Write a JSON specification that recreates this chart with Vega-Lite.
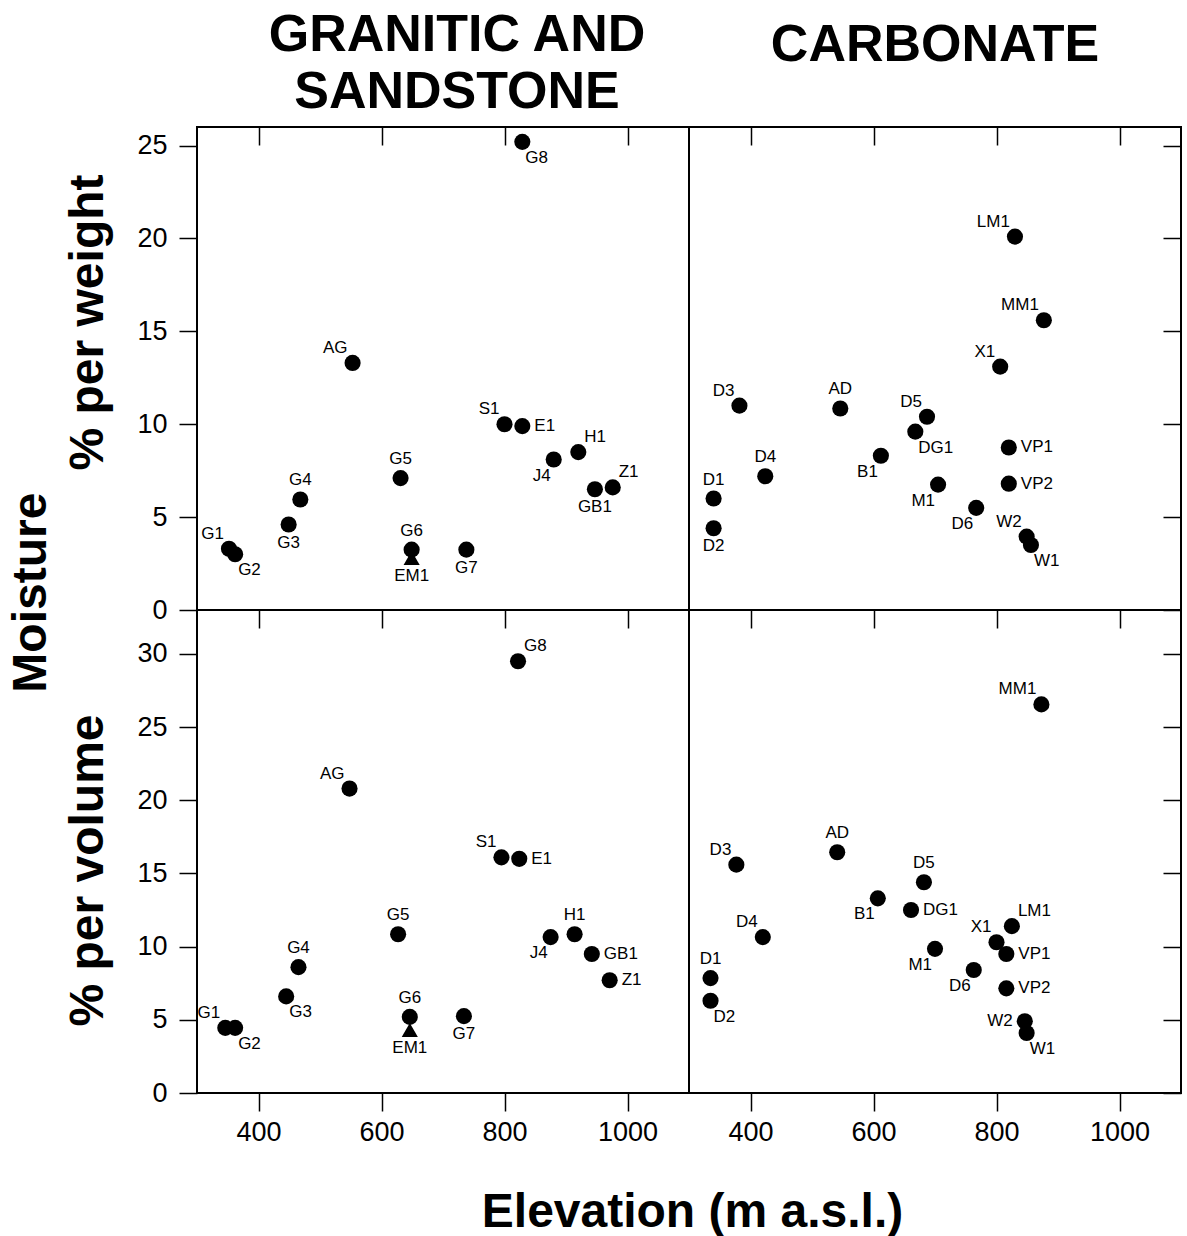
{
  "$schema": "https://vega.github.io/schema/vega-lite/v6.json",
  "padding": {"left": 7, "top": 8, "right": 5, "bottom": 5},
  "background": "white",
  "title": {"text": "Moisture", "orient": "left", "fontSize": 48, "fontWeight": "bold", "font": "Liberation Sans", "anchor": "middle", "offset": 8, "dx": 30, "color": "black"},
  "datasets": {
    "sites": [
      {"rock": "G", "m": "w", "site": "G8", "elev": 829, "moist": 25.2, "marker": "circle", "lp": "lr"},
      {"rock": "G", "m": "w", "site": "AG", "elev": 553, "moist": 13.3, "marker": "circle", "lp": "ul"},
      {"rock": "G", "m": "w", "site": "S1", "elev": 800, "moist": 10.0, "marker": "circle", "lp": "ul"},
      {"rock": "G", "m": "w", "site": "E1", "elev": 829, "moist": 9.9, "marker": "circle", "lp": "r"},
      {"rock": "G", "m": "w", "site": "H1", "elev": 920, "moist": 8.5, "marker": "circle", "lp": "ur"},
      {"rock": "G", "m": "w", "site": "J4", "elev": 880, "moist": 8.1, "marker": "circle", "lp": "ll"},
      {"rock": "G", "m": "w", "site": "GB1", "elev": 947, "moist": 6.5, "marker": "circle", "lp": "b"},
      {"rock": "G", "m": "w", "site": "Z1", "elev": 976, "moist": 6.6, "marker": "circle", "lp": "ur"},
      {"rock": "G", "m": "w", "site": "G5", "elev": 631, "moist": 7.1, "marker": "circle", "lp": "a"},
      {"rock": "G", "m": "w", "site": "G4", "elev": 468, "moist": 5.95, "marker": "circle", "lp": "a"},
      {"rock": "G", "m": "w", "site": "G3", "elev": 449, "moist": 4.6, "marker": "circle", "lp": "b"},
      {"rock": "G", "m": "w", "site": "G1", "elev": 352, "moist": 3.3, "marker": "circle", "lp": "ul"},
      {"rock": "G", "m": "w", "site": "G2", "elev": 362, "moist": 3.0, "marker": "circle", "lp": "lr"},
      {"rock": "G", "m": "w", "site": "G6", "elev": 649, "moist": 3.25, "marker": "circle", "lp": "a"},
      {"rock": "G", "m": "w", "site": "EM1", "elev": 649, "moist": 2.8, "marker": "triangle", "lp": "b"},
      {"rock": "G", "m": "w", "site": "G7", "elev": 738, "moist": 3.25, "marker": "circle", "lp": "b"},

      {"rock": "C", "m": "w", "site": "LM1", "elev": 830, "moist": 20.1, "marker": "circle", "lp": "ul"},
      {"rock": "C", "m": "w", "site": "MM1", "elev": 877, "moist": 15.6, "marker": "circle", "lp": "ul"},
      {"rock": "C", "m": "w", "site": "X1", "elev": 806, "moist": 13.1, "marker": "circle", "lp": "ul"},
      {"rock": "C", "m": "w", "site": "D3", "elev": 382, "moist": 11.0, "marker": "circle", "lp": "ul"},
      {"rock": "C", "m": "w", "site": "AD", "elev": 546, "moist": 10.85, "marker": "circle", "lp": "a"},
      {"rock": "C", "m": "w", "site": "D5", "elev": 687, "moist": 10.4, "marker": "circle", "lp": "ul"},
      {"rock": "C", "m": "w", "site": "DG1", "elev": 668, "moist": 9.6, "marker": "circle", "lp": "lr"},
      {"rock": "C", "m": "w", "site": "B1", "elev": 612, "moist": 8.3, "marker": "circle", "lp": "ll"},
      {"rock": "C", "m": "w", "site": "VP1", "elev": 820, "moist": 8.75, "marker": "circle", "lp": "r"},
      {"rock": "C", "m": "w", "site": "D4", "elev": 424, "moist": 7.2, "marker": "circle", "lp": "a"},
      {"rock": "C", "m": "w", "site": "M1", "elev": 705, "moist": 6.75, "marker": "circle", "lp": "ll"},
      {"rock": "C", "m": "w", "site": "VP2", "elev": 820, "moist": 6.8, "marker": "circle", "lp": "r"},
      {"rock": "C", "m": "w", "site": "D1", "elev": 340, "moist": 6.0, "marker": "circle", "lp": "a"},
      {"rock": "C", "m": "w", "site": "D6", "elev": 767, "moist": 5.5, "marker": "circle", "lp": "ll"},
      {"rock": "C", "m": "w", "site": "D2", "elev": 340, "moist": 4.4, "marker": "circle", "lp": "b"},
      {"rock": "C", "m": "w", "site": "W2", "elev": 849, "moist": 3.95, "marker": "circle", "lp": "ul"},
      {"rock": "C", "m": "w", "site": "W1", "elev": 856, "moist": 3.5, "marker": "circle", "lp": "lr"},

      {"rock": "G", "m": "v", "site": "G8", "elev": 822, "moist": 29.5, "marker": "circle", "lp": "ur"},
      {"rock": "G", "m": "v", "site": "AG", "elev": 548, "moist": 20.8, "marker": "circle", "lp": "ul"},
      {"rock": "G", "m": "v", "site": "S1", "elev": 795, "moist": 16.1, "marker": "circle", "lp": "ul"},
      {"rock": "G", "m": "v", "site": "E1", "elev": 824, "moist": 16.0, "marker": "circle", "lp": "r"},
      {"rock": "G", "m": "v", "site": "G5", "elev": 627, "moist": 10.85, "marker": "circle", "lp": "a"},
      {"rock": "G", "m": "v", "site": "H1", "elev": 914, "moist": 10.85, "marker": "circle", "lp": "a"},
      {"rock": "G", "m": "v", "site": "J4", "elev": 875, "moist": 10.65, "marker": "circle", "lp": "ll"},
      {"rock": "G", "m": "v", "site": "GB1", "elev": 942, "moist": 9.5, "marker": "circle", "lp": "r"},
      {"rock": "G", "m": "v", "site": "Z1", "elev": 971, "moist": 7.7, "marker": "circle", "lp": "r"},
      {"rock": "G", "m": "v", "site": "G4", "elev": 465, "moist": 8.6, "marker": "circle", "lp": "a"},
      {"rock": "G", "m": "v", "site": "G3", "elev": 445, "moist": 6.6, "marker": "circle", "lp": "lr"},
      {"rock": "G", "m": "v", "site": "G1", "elev": 346, "moist": 4.45, "marker": "circle", "lp": "ul"},
      {"rock": "G", "m": "v", "site": "G2", "elev": 362, "moist": 4.45, "marker": "circle", "lp": "lr"},
      {"rock": "G", "m": "v", "site": "G6", "elev": 646, "moist": 5.2, "marker": "circle", "lp": "a"},
      {"rock": "G", "m": "v", "site": "EM1", "elev": 646, "moist": 4.3, "marker": "triangle", "lp": "b"},
      {"rock": "G", "m": "v", "site": "G7", "elev": 734, "moist": 5.25, "marker": "circle", "lp": "b"},

      {"rock": "C", "m": "v", "site": "MM1", "elev": 873, "moist": 26.55, "marker": "circle", "lp": "ul"},
      {"rock": "C", "m": "v", "site": "D3", "elev": 377, "moist": 15.6, "marker": "circle", "lp": "ul"},
      {"rock": "C", "m": "v", "site": "AD", "elev": 541, "moist": 16.45, "marker": "circle", "lp": "a"},
      {"rock": "C", "m": "v", "site": "D5", "elev": 682, "moist": 14.4, "marker": "circle", "lp": "a"},
      {"rock": "C", "m": "v", "site": "B1", "elev": 607, "moist": 13.3, "marker": "circle", "lp": "ll"},
      {"rock": "C", "m": "v", "site": "DG1", "elev": 661, "moist": 12.5, "marker": "circle", "lp": "r"},
      {"rock": "C", "m": "v", "site": "LM1", "elev": 825, "moist": 11.4, "marker": "circle", "lp": "ur"},
      {"rock": "C", "m": "v", "site": "X1", "elev": 800, "moist": 10.3, "marker": "circle", "lp": "ul"},
      {"rock": "C", "m": "v", "site": "VP1", "elev": 816, "moist": 9.5, "marker": "circle", "lp": "r"},
      {"rock": "C", "m": "v", "site": "D4", "elev": 420, "moist": 10.65, "marker": "circle", "lp": "ul"},
      {"rock": "C", "m": "v", "site": "M1", "elev": 700, "moist": 9.85, "marker": "circle", "lp": "ll"},
      {"rock": "C", "m": "v", "site": "D6", "elev": 763, "moist": 8.4, "marker": "circle", "lp": "ll"},
      {"rock": "C", "m": "v", "site": "VP2", "elev": 816, "moist": 7.15, "marker": "circle", "lp": "r"},
      {"rock": "C", "m": "v", "site": "D1", "elev": 335, "moist": 7.85, "marker": "circle", "lp": "a"},
      {"rock": "C", "m": "v", "site": "D2", "elev": 335, "moist": 6.3, "marker": "circle", "lp": "lr"},
      {"rock": "C", "m": "v", "site": "W2", "elev": 846, "moist": 4.9, "marker": "circle", "lp": "l"},
      {"rock": "C", "m": "v", "site": "W1", "elev": 849, "moist": 4.1, "marker": "circle", "lp": "lr"}
    ]
  },
  "columns": 2,
  "spacing": 0,
  "bounds": "flush",
  "concat": [
    {
      "width": 492, "height": 483,
      "title": {"text": ["GRANITIC AND", "SANDSTONE"], "fontSize": 52, "fontWeight": "bold", "lineHeight": 57, "anchor": "middle", "offset": 7, "dx": 14, "color": "black"},
      "data": {"name": "sites"},
      "transform": [{"filter": "datum.rock === 'G' && datum.m === 'w'"}],
      "layer": [
        {"mark": {"type": "point", "filled": true, "color": "black", "opacity": 1, "size": 260},
         "encoding": {
           "x": {"field": "elev", "type": "quantitative", "scale": {"domain": [300, 1100], "nice": false, "zero": false}, "axis": {"orient": "top", "values": [400, 600, 800, 1000], "tickSize": -18, "labels": false, "title": null, "minExtent": 0, "maxExtent": 0}},
           "y": {"field": "moist", "type": "quantitative", "scale": {"domain": [0, 26], "nice": false}, "axis": {"orient": "left", "values": [0, 5, 10, 15, 20, 25], "tickSize": 18, "labelFontSize": 27, "labelPadding": 12, "title": "% per weight", "titleFontSize": 48, "titleFontWeight": "bold", "titlePadding": 24, "titleY": 195, "titleColor": "black"}},
           "shape": {"field": "marker", "type": "nominal", "scale": {"domain": ["circle", "triangle"], "range": ["circle", "triangle-up"]}, "legend": null}}},
        {"transform": [{"filter": "datum.lp === 'ul'"}], "mark": {"type": "text", "align": "right", "baseline": "bottom", "dx": -5, "dy": -6}, "encoding": {"x": {"field": "elev", "type": "quantitative", "axis": null}, "y": {"field": "moist", "type": "quantitative", "axis": null}, "text": {"field": "site"}}},
        {"transform": [{"filter": "datum.lp === 'ur'"}], "mark": {"type": "text", "align": "left", "baseline": "bottom", "dx": 6, "dy": -6}, "encoding": {"x": {"field": "elev", "type": "quantitative", "axis": null}, "y": {"field": "moist", "type": "quantitative", "axis": null}, "text": {"field": "site"}}},
        {"transform": [{"filter": "datum.lp === 'll'"}], "mark": {"type": "text", "align": "right", "baseline": "top", "dx": -3, "dy": 8}, "encoding": {"x": {"field": "elev", "type": "quantitative", "axis": null}, "y": {"field": "moist", "type": "quantitative", "axis": null}, "text": {"field": "site"}}},
        {"transform": [{"filter": "datum.lp === 'lr'"}], "mark": {"type": "text", "align": "left", "baseline": "top", "dx": 3, "dy": 8}, "encoding": {"x": {"field": "elev", "type": "quantitative", "axis": null}, "y": {"field": "moist", "type": "quantitative", "axis": null}, "text": {"field": "site"}}},
        {"transform": [{"filter": "datum.lp === 'a'"}], "mark": {"type": "text", "align": "center", "baseline": "bottom", "dy": -10}, "encoding": {"x": {"field": "elev", "type": "quantitative", "axis": null}, "y": {"field": "moist", "type": "quantitative", "axis": null}, "text": {"field": "site"}}},
        {"transform": [{"filter": "datum.lp === 'b'"}], "mark": {"type": "text", "align": "center", "baseline": "top", "dy": 10}, "encoding": {"x": {"field": "elev", "type": "quantitative", "axis": null}, "y": {"field": "moist", "type": "quantitative", "axis": null}, "text": {"field": "site"}}},
        {"transform": [{"filter": "datum.lp === 'r'"}], "mark": {"type": "text", "align": "left", "baseline": "middle", "dx": 12}, "encoding": {"x": {"field": "elev", "type": "quantitative", "axis": null}, "y": {"field": "moist", "type": "quantitative", "axis": null}, "text": {"field": "site"}}},
        {"transform": [{"filter": "datum.lp === 'l'"}], "mark": {"type": "text", "align": "right", "baseline": "middle", "dx": -12}, "encoding": {"x": {"field": "elev", "type": "quantitative", "axis": null}, "y": {"field": "moist", "type": "quantitative", "axis": null}, "text": {"field": "site"}}}
      ],
      "resolve": {"axis": {"x": "independent", "y": "independent"}}
    },
    {
      "width": 492, "height": 483,
      "title": {"text": "CARBONATE", "fontSize": 52, "fontWeight": "bold", "anchor": "middle", "offset": 54, "color": "black"},
      "data": {"name": "sites"},
      "transform": [{"filter": "datum.rock === 'C' && datum.m === 'w'"}],
      "layer": [
        {"mark": {"type": "point", "filled": true, "color": "black", "opacity": 1, "size": 260},
         "encoding": {
           "x": {"field": "elev", "type": "quantitative", "scale": {"domain": [300, 1100], "nice": false, "zero": false}, "axis": {"orient": "top", "values": [400, 600, 800, 1000], "tickSize": -18, "labels": false, "title": null, "minExtent": 0, "maxExtent": 0}},
           "y": {"field": "moist", "type": "quantitative", "scale": {"domain": [0, 26], "nice": false}, "axis": {"orient": "right", "values": [0, 5, 10, 15, 20, 25], "tickSize": -18, "labels": false, "title": null, "minExtent": 0, "maxExtent": 0}},
           "shape": {"field": "marker", "type": "nominal", "scale": {"domain": ["circle", "triangle"], "range": ["circle", "triangle-up"]}, "legend": null}}},
        {"transform": [{"filter": "datum.lp === 'ul'"}], "mark": {"type": "text", "align": "right", "baseline": "bottom", "dx": -5, "dy": -6}, "encoding": {"x": {"field": "elev", "type": "quantitative", "axis": null}, "y": {"field": "moist", "type": "quantitative", "axis": null}, "text": {"field": "site"}}},
        {"transform": [{"filter": "datum.lp === 'ur'"}], "mark": {"type": "text", "align": "left", "baseline": "bottom", "dx": 6, "dy": -6}, "encoding": {"x": {"field": "elev", "type": "quantitative", "axis": null}, "y": {"field": "moist", "type": "quantitative", "axis": null}, "text": {"field": "site"}}},
        {"transform": [{"filter": "datum.lp === 'll'"}], "mark": {"type": "text", "align": "right", "baseline": "top", "dx": -3, "dy": 8}, "encoding": {"x": {"field": "elev", "type": "quantitative", "axis": null}, "y": {"field": "moist", "type": "quantitative", "axis": null}, "text": {"field": "site"}}},
        {"transform": [{"filter": "datum.lp === 'lr'"}], "mark": {"type": "text", "align": "left", "baseline": "top", "dx": 3, "dy": 8}, "encoding": {"x": {"field": "elev", "type": "quantitative", "axis": null}, "y": {"field": "moist", "type": "quantitative", "axis": null}, "text": {"field": "site"}}},
        {"transform": [{"filter": "datum.lp === 'a'"}], "mark": {"type": "text", "align": "center", "baseline": "bottom", "dy": -10}, "encoding": {"x": {"field": "elev", "type": "quantitative", "axis": null}, "y": {"field": "moist", "type": "quantitative", "axis": null}, "text": {"field": "site"}}},
        {"transform": [{"filter": "datum.lp === 'b'"}], "mark": {"type": "text", "align": "center", "baseline": "top", "dy": 10}, "encoding": {"x": {"field": "elev", "type": "quantitative", "axis": null}, "y": {"field": "moist", "type": "quantitative", "axis": null}, "text": {"field": "site"}}},
        {"transform": [{"filter": "datum.lp === 'r'"}], "mark": {"type": "text", "align": "left", "baseline": "middle", "dx": 12}, "encoding": {"x": {"field": "elev", "type": "quantitative", "axis": null}, "y": {"field": "moist", "type": "quantitative", "axis": null}, "text": {"field": "site"}}},
        {"transform": [{"filter": "datum.lp === 'l'"}], "mark": {"type": "text", "align": "right", "baseline": "middle", "dx": -12}, "encoding": {"x": {"field": "elev", "type": "quantitative", "axis": null}, "y": {"field": "moist", "type": "quantitative", "axis": null}, "text": {"field": "site"}}}
      ],
      "resolve": {"axis": {"x": "independent", "y": "independent"}}
    },
    {
      "width": 492, "height": 483,
      "data": {"name": "sites"},
      "transform": [{"filter": "datum.rock === 'G' && datum.m === 'v'"}],
      "layer": [
        {"mark": {"type": "point", "filled": true, "color": "black", "opacity": 1, "size": 260},
         "encoding": {
           "x": {"field": "elev", "type": "quantitative", "scale": {"domain": [300, 1100], "nice": false, "zero": false}, "axis": {"orient": "top", "values": [400, 600, 800, 1000], "tickSize": -18, "labels": false, "title": null, "minExtent": 0, "maxExtent": 0}},
           "y": {"field": "moist", "type": "quantitative", "scale": {"domain": [0, 33], "nice": false}, "axis": {"orient": "left", "values": [0, 5, 10, 15, 20, 25, 30], "tickSize": 18, "labelFontSize": 27, "labelPadding": 12, "title": "% per volume", "titleFontSize": 48, "titleFontWeight": "bold", "titlePadding": 24, "titleY": 260, "titleColor": "black"}},
           "shape": {"field": "marker", "type": "nominal", "scale": {"domain": ["circle", "triangle"], "range": ["circle", "triangle-up"]}, "legend": null}}},
        {"mark": {"type": "point", "opacity": 0},
         "encoding": {
           "x": {"field": "elev", "type": "quantitative", "axis": {"orient": "bottom", "values": [400, 600, 800, 1000], "format": "d", "tickSize": 18, "labelFontSize": 27, "labelPadding": 8, "title": "Elevation (m a.s.l.)", "titleFontSize": 48, "titleFontWeight": "bold", "titleColor": "black", "titleX": 495, "titleY": 133, "titleAlign": "center", "titleBaseline": "alphabetic", "titleAnchor": null}},
           "y": {"field": "moist", "type": "quantitative", "axis": null}}},
        {"transform": [{"filter": "datum.lp === 'ul'"}], "mark": {"type": "text", "align": "right", "baseline": "bottom", "dx": -5, "dy": -6}, "encoding": {"x": {"field": "elev", "type": "quantitative", "axis": null}, "y": {"field": "moist", "type": "quantitative", "axis": null}, "text": {"field": "site"}}},
        {"transform": [{"filter": "datum.lp === 'ur'"}], "mark": {"type": "text", "align": "left", "baseline": "bottom", "dx": 6, "dy": -6}, "encoding": {"x": {"field": "elev", "type": "quantitative", "axis": null}, "y": {"field": "moist", "type": "quantitative", "axis": null}, "text": {"field": "site"}}},
        {"transform": [{"filter": "datum.lp === 'll'"}], "mark": {"type": "text", "align": "right", "baseline": "top", "dx": -3, "dy": 8}, "encoding": {"x": {"field": "elev", "type": "quantitative", "axis": null}, "y": {"field": "moist", "type": "quantitative", "axis": null}, "text": {"field": "site"}}},
        {"transform": [{"filter": "datum.lp === 'lr'"}], "mark": {"type": "text", "align": "left", "baseline": "top", "dx": 3, "dy": 8}, "encoding": {"x": {"field": "elev", "type": "quantitative", "axis": null}, "y": {"field": "moist", "type": "quantitative", "axis": null}, "text": {"field": "site"}}},
        {"transform": [{"filter": "datum.lp === 'a'"}], "mark": {"type": "text", "align": "center", "baseline": "bottom", "dy": -10}, "encoding": {"x": {"field": "elev", "type": "quantitative", "axis": null}, "y": {"field": "moist", "type": "quantitative", "axis": null}, "text": {"field": "site"}}},
        {"transform": [{"filter": "datum.lp === 'b'"}], "mark": {"type": "text", "align": "center", "baseline": "top", "dy": 10}, "encoding": {"x": {"field": "elev", "type": "quantitative", "axis": null}, "y": {"field": "moist", "type": "quantitative", "axis": null}, "text": {"field": "site"}}},
        {"transform": [{"filter": "datum.lp === 'r'"}], "mark": {"type": "text", "align": "left", "baseline": "middle", "dx": 12}, "encoding": {"x": {"field": "elev", "type": "quantitative", "axis": null}, "y": {"field": "moist", "type": "quantitative", "axis": null}, "text": {"field": "site"}}},
        {"transform": [{"filter": "datum.lp === 'l'"}], "mark": {"type": "text", "align": "right", "baseline": "middle", "dx": -12}, "encoding": {"x": {"field": "elev", "type": "quantitative", "axis": null}, "y": {"field": "moist", "type": "quantitative", "axis": null}, "text": {"field": "site"}}}
      ],
      "resolve": {"axis": {"x": "independent", "y": "independent"}}
    },
    {
      "width": 492, "height": 483,
      "data": {"name": "sites"},
      "transform": [{"filter": "datum.rock === 'C' && datum.m === 'v'"}],
      "layer": [
        {"mark": {"type": "point", "filled": true, "color": "black", "opacity": 1, "size": 260},
         "encoding": {
           "x": {"field": "elev", "type": "quantitative", "scale": {"domain": [300, 1100], "nice": false, "zero": false}, "axis": {"orient": "top", "values": [400, 600, 800, 1000], "tickSize": -18, "labels": false, "title": null, "minExtent": 0, "maxExtent": 0}},
           "y": {"field": "moist", "type": "quantitative", "scale": {"domain": [0, 33], "nice": false}, "axis": {"orient": "right", "values": [0, 5, 10, 15, 20, 25, 30], "tickSize": -18, "labels": false, "title": null, "minExtent": 0, "maxExtent": 0}},
           "shape": {"field": "marker", "type": "nominal", "scale": {"domain": ["circle", "triangle"], "range": ["circle", "triangle-up"]}, "legend": null}}},
        {"mark": {"type": "point", "opacity": 0},
         "encoding": {
           "x": {"field": "elev", "type": "quantitative", "axis": {"orient": "bottom", "values": [400, 600, 800, 1000], "format": "d", "tickSize": 18, "labelFontSize": 27, "labelPadding": 8, "title": null}},
           "y": {"field": "moist", "type": "quantitative", "axis": null}}},
        {"transform": [{"filter": "datum.lp === 'ul'"}], "mark": {"type": "text", "align": "right", "baseline": "bottom", "dx": -5, "dy": -6}, "encoding": {"x": {"field": "elev", "type": "quantitative", "axis": null}, "y": {"field": "moist", "type": "quantitative", "axis": null}, "text": {"field": "site"}}},
        {"transform": [{"filter": "datum.lp === 'ur'"}], "mark": {"type": "text", "align": "left", "baseline": "bottom", "dx": 6, "dy": -6}, "encoding": {"x": {"field": "elev", "type": "quantitative", "axis": null}, "y": {"field": "moist", "type": "quantitative", "axis": null}, "text": {"field": "site"}}},
        {"transform": [{"filter": "datum.lp === 'll'"}], "mark": {"type": "text", "align": "right", "baseline": "top", "dx": -3, "dy": 8}, "encoding": {"x": {"field": "elev", "type": "quantitative", "axis": null}, "y": {"field": "moist", "type": "quantitative", "axis": null}, "text": {"field": "site"}}},
        {"transform": [{"filter": "datum.lp === 'lr'"}], "mark": {"type": "text", "align": "left", "baseline": "top", "dx": 3, "dy": 8}, "encoding": {"x": {"field": "elev", "type": "quantitative", "axis": null}, "y": {"field": "moist", "type": "quantitative", "axis": null}, "text": {"field": "site"}}},
        {"transform": [{"filter": "datum.lp === 'a'"}], "mark": {"type": "text", "align": "center", "baseline": "bottom", "dy": -10}, "encoding": {"x": {"field": "elev", "type": "quantitative", "axis": null}, "y": {"field": "moist", "type": "quantitative", "axis": null}, "text": {"field": "site"}}},
        {"transform": [{"filter": "datum.lp === 'b'"}], "mark": {"type": "text", "align": "center", "baseline": "top", "dy": 10}, "encoding": {"x": {"field": "elev", "type": "quantitative", "axis": null}, "y": {"field": "moist", "type": "quantitative", "axis": null}, "text": {"field": "site"}}},
        {"transform": [{"filter": "datum.lp === 'r'"}], "mark": {"type": "text", "align": "left", "baseline": "middle", "dx": 12}, "encoding": {"x": {"field": "elev", "type": "quantitative", "axis": null}, "y": {"field": "moist", "type": "quantitative", "axis": null}, "text": {"field": "site"}}},
        {"transform": [{"filter": "datum.lp === 'l'"}], "mark": {"type": "text", "align": "right", "baseline": "middle", "dx": -12}, "encoding": {"x": {"field": "elev", "type": "quantitative", "axis": null}, "y": {"field": "moist", "type": "quantitative", "axis": null}, "text": {"field": "site"}}}
      ],
      "resolve": {"axis": {"x": "independent", "y": "independent"}}
    }
  ],
  "config": {
    "font": "Liberation Sans",
    "view": {"stroke": "black", "strokeWidth": 2},
    "axis": {"domain": false, "grid": false, "tickColor": "black", "tickWidth": 1.5, "labelColor": "black", "labelFont": "Liberation Sans", "titleFont": "Liberation Sans", "titleColor": "black"},
    "title": {"font": "Liberation Sans", "color": "black"},
    "text": {"font": "Liberation Sans", "fontSize": 17, "color": "black"}
  }
}
